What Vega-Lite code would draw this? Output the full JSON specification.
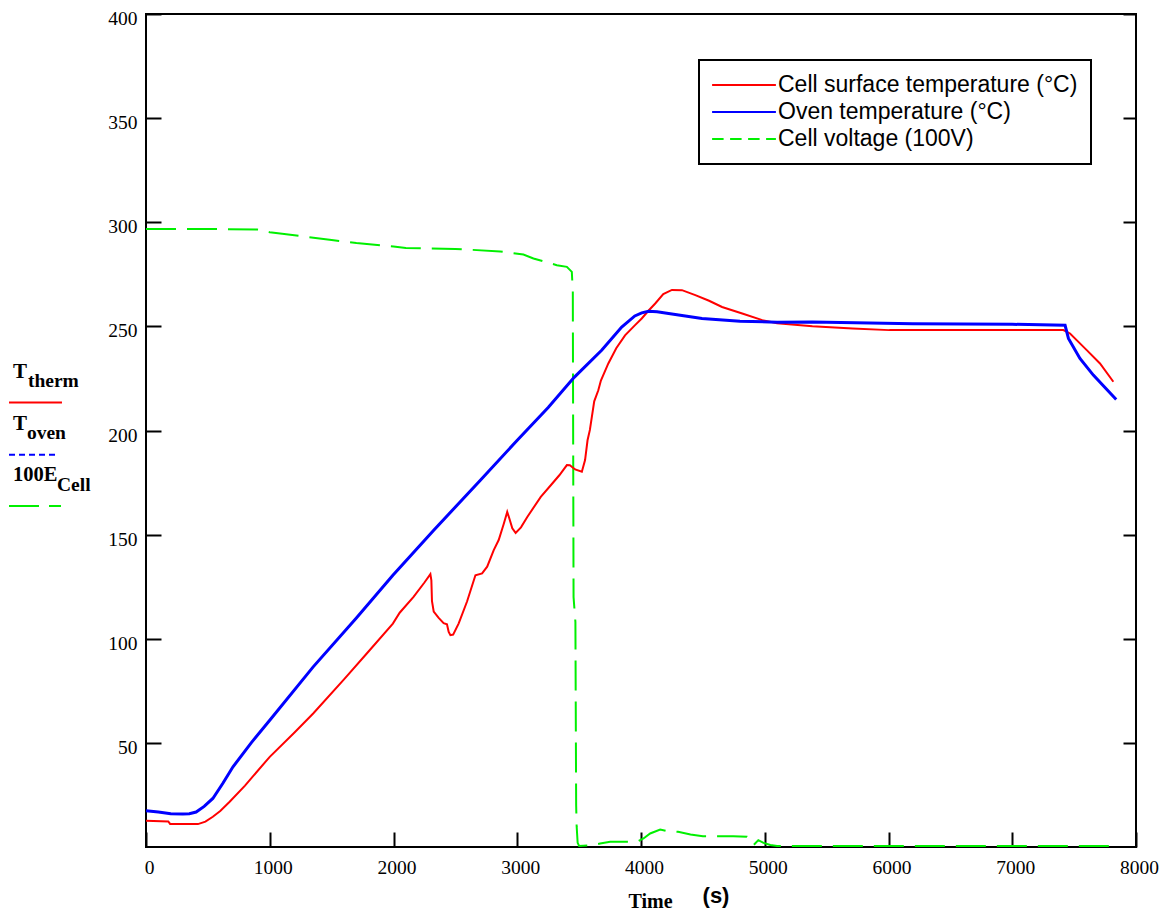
{
  "$schema": "https://vega.github.io/schema/vega-lite/v6.json",
  "width": 990,
  "height": 833,
  "autosize": {"type": "none"},
  "padding": {"left": 146, "top": 14, "right": 34, "bottom": 66},
  "background": "white",
  "datasets": {
    "therm": [
      {"time": 0, "value": 12.6}, {"time": 180, "value": 12.3}, {"time": 195, "value": 11.1}, {"time": 420, "value": 11.0},
      {"time": 480, "value": 12.2}, {"time": 540, "value": 14.5}, {"time": 600, "value": 17.3}, {"time": 676, "value": 21.7},
      {"time": 800, "value": 29.5}, {"time": 1000, "value": 43.3}, {"time": 1200, "value": 55}, {"time": 1351, "value": 64.1},
      {"time": 1600, "value": 80.5}, {"time": 1800, "value": 94}, {"time": 1995, "value": 107.3}, {"time": 2050, "value": 112.5},
      {"time": 2162, "value": 120.1}, {"time": 2250, "value": 127}, {"time": 2298, "value": 131}, {"time": 2306, "value": 128},
      {"time": 2311, "value": 118}, {"time": 2325, "value": 113}, {"time": 2365, "value": 110}, {"time": 2405, "value": 107.5},
      {"time": 2432, "value": 107}, {"time": 2446, "value": 103.3}, {"time": 2460, "value": 101.7}, {"time": 2482, "value": 102},
      {"time": 2527, "value": 107.4}, {"time": 2595, "value": 118}, {"time": 2662, "value": 130.5}, {"time": 2716, "value": 131.4},
      {"time": 2757, "value": 134.6}, {"time": 2810, "value": 142.6}, {"time": 2850, "value": 147.4}, {"time": 2890, "value": 155},
      {"time": 2919, "value": 160.9}, {"time": 2935, "value": 158}, {"time": 2960, "value": 153}, {"time": 2987, "value": 150.8},
      {"time": 3030, "value": 153.5}, {"time": 3081, "value": 158.5}, {"time": 3190, "value": 168.1}, {"time": 3271, "value": 173.7},
      {"time": 3340, "value": 178.5}, {"time": 3401, "value": 183.4}, {"time": 3425, "value": 183.3}, {"time": 3468, "value": 181.3},
      {"time": 3522, "value": 180.2}, {"time": 3548, "value": 185.8}, {"time": 3568, "value": 195.3}, {"time": 3587, "value": 200.3},
      {"time": 3622, "value": 214}, {"time": 3655, "value": 219.3}, {"time": 3676, "value": 224}, {"time": 3736, "value": 232.2},
      {"time": 3800, "value": 239.5}, {"time": 3871, "value": 245.7}, {"time": 3950, "value": 250.5}, {"time": 4006, "value": 253.8},
      {"time": 4060, "value": 257.5}, {"time": 4115, "value": 261}, {"time": 4180, "value": 265.5}, {"time": 4250, "value": 267.5},
      {"time": 4331, "value": 267.4}, {"time": 4439, "value": 265}, {"time": 4550, "value": 262.3}, {"time": 4655, "value": 259.3},
      {"time": 4818, "value": 256.2}, {"time": 4980, "value": 253}, {"time": 5100, "value": 251.5}, {"time": 5385, "value": 250.1},
      {"time": 5710, "value": 249}, {"time": 6007, "value": 248.2}, {"time": 6500, "value": 248.2}, {"time": 7000, "value": 248.3},
      {"time": 7413, "value": 248.2}, {"time": 7467, "value": 246.6}, {"time": 7602, "value": 238.6}, {"time": 7709, "value": 232.2},
      {"time": 7817, "value": 223.4}
    ],
    "oven": [
      {"time": 0, "value": 17.4}, {"time": 100, "value": 16.8}, {"time": 200, "value": 16}, {"time": 297, "value": 15.8},
      {"time": 350, "value": 16}, {"time": 405, "value": 16.8}, {"time": 470, "value": 19.5}, {"time": 540, "value": 23.3},
      {"time": 620, "value": 30.5}, {"time": 703, "value": 38.5}, {"time": 850, "value": 50}, {"time": 1000, "value": 60.9},
      {"time": 1351, "value": 86.5}, {"time": 1700, "value": 110}, {"time": 1995, "value": 130.5}, {"time": 2325, "value": 152.1},
      {"time": 2700, "value": 176}, {"time": 3000, "value": 195.3}, {"time": 3250, "value": 211}, {"time": 3460, "value": 225.5},
      {"time": 3682, "value": 238.5}, {"time": 3844, "value": 249.7}, {"time": 3950, "value": 255}, {"time": 4006, "value": 256.5},
      {"time": 4061, "value": 257.3}, {"time": 4130, "value": 257}, {"time": 4223, "value": 256.2}, {"time": 4493, "value": 253.8},
      {"time": 4800, "value": 252.5}, {"time": 5100, "value": 252}, {"time": 5385, "value": 252.1}, {"time": 6196, "value": 251.3},
      {"time": 7000, "value": 251}, {"time": 7427, "value": 250.5}, {"time": 7454, "value": 244.2}, {"time": 7547, "value": 234.6},
      {"time": 7655, "value": 226.6}, {"time": 7840, "value": 214.9}
    ],
    "cell": [
      {"time": 0, "value": 296.8}, {"time": 500, "value": 296.8}, {"time": 900, "value": 296.5}, {"time": 1000, "value": 295.2},
      {"time": 1100, "value": 294.5}, {"time": 1300, "value": 293}, {"time": 1500, "value": 291.5}, {"time": 1700, "value": 290},
      {"time": 2000, "value": 288.3}, {"time": 2100, "value": 287.6}, {"time": 2500, "value": 287.2}, {"time": 2862, "value": 286},
      {"time": 3050, "value": 284.5}, {"time": 3131, "value": 282.6}, {"time": 3320, "value": 279.4}, {"time": 3401, "value": 278.6},
      {"time": 3441, "value": 276.2}, {"time": 3449, "value": 266.5}, {"time": 3455, "value": 120}, {"time": 3470, "value": 108},
      {"time": 3476, "value": 20}, {"time": 3480, "value": 10}, {"time": 3488, "value": 2}, {"time": 3500, "value": 0.5},
      {"time": 3600, "value": 0.8}, {"time": 3670, "value": 1.7}, {"time": 3751, "value": 2.5}, {"time": 3967, "value": 2.5},
      {"time": 4020, "value": 4.1}, {"time": 4074, "value": 6.5}, {"time": 4155, "value": 8.4}, {"time": 4220, "value": 7.5},
      {"time": 4300, "value": 7.3}, {"time": 4400, "value": 6}, {"time": 4500, "value": 5.2}, {"time": 4745, "value": 5.2},
      {"time": 4856, "value": 4.9}, {"time": 4880, "value": 3}, {"time": 4910, "value": 0.9}, {"time": 4948, "value": 3.3},
      {"time": 4990, "value": 2}, {"time": 5045, "value": 1}, {"time": 5100, "value": 0.5}, {"time": 5500, "value": 0.5},
      {"time": 7800, "value": 0.5}
    ]
  },
  "data": {"values": [{}]},
  "resolve": {"axis": {"x": "independent", "y": "independent"}},
  "layer": [
    {
      "data": {"name": "cell"},
      "mark": {"type": "line", "strokeWidth": 2, "strokeDash": [30, 11], "strokeCap": "butt"},
      "encoding": {
        "x": {"field": "time", "type": "quantitative", "scale": {"domain": [0, 8000], "nice": false, "zero": false}, "axis": null},
        "y": {"field": "value", "type": "quantitative", "scale": {"domain": [0, 400], "nice": false},
          "axis": {"orient": "right", "values": [50, 100, 150, 200, 250, 300, 350, 400], "labels": false, "tickSize": -13, "title": null}},
        "color": {
          "datum": "Cell voltage (100V)", "type": "nominal",
          "scale": {
            "domain": ["Cell surface temperature (°C)", "Oven temperature (°C)", "Cell voltage (100V)"],
            "range": ["#ff0000", "#0000ff", "#00f000"]
          },
          "legend": {
            "title": null,
            "orient": "none",
            "legendX": 553,
            "legendY": 46,
            "direction": "vertical",
            "symbolType": "M-2.9,0H2.9",
            "symbolSize": 484,
            "symbolStrokeWidth": 2,
            "symbolOffset": 20,
            "labelOffset": 22,
            "labelFont": "Liberation Sans",
            "labelFontSize": 23,
            "labelColor": "black",
            "labelLimit": 1000,
            "labelBaseline": "middle",
            "rowPadding": 3,
            "padding": 13,
            "strokeColor": "black",
            "fillColor": "white",
            "encode": {
              "legend": {"update": {"strokeWidth": {"value": 2}}},
              "symbols": {
                "update": {
                  "strokeDash": {"signal": "datum.value === 'Cell voltage (100V)' ? [11.5, 6.5] : [1, 0]"},
                  "fill": {"value": "transparent"}
                }
              }
            }
          }
        }
      }
    },
    {
      "data": {"name": "therm"},
      "mark": {"type": "line", "strokeWidth": 2},
      "encoding": {
        "x": {"field": "time", "type": "quantitative", "scale": {"domain": [0, 8000], "nice": false, "zero": false},
          "axis": {
            "orient": "bottom",
            "values": [0, 1000, 2000, 3000, 4000, 5000, 6000, 7000, 8000],
            "format": "d",
            "tickSize": -15,
            "labelPadding": 26,
            "labelOffset": 3,
            "labelFlush": false,
            "labelOverlap": false,
            "title": "Time",
            "titleFont": "Liberation Serif",
            "titleFontWeight": "bold",
            "titleFontSize": 20,
            "titleX": 504,
            "titleY": 60,
            "titleBaseline": "alphabetic",
            "titleAlign": "center"
          }},
        "y": {"field": "value", "type": "quantitative", "scale": {"domain": [0, 400], "nice": false},
          "axis": {
            "orient": "left",
            "values": [50, 100, 150, 200, 250, 300, 350, 400],
            "tickSize": -15,
            "labelPadding": 24,
            "labelOffset": 4.5,
            "labelFlush": false,
            "labelOverlap": false,
            "title": null
          }},
        "color": {"datum": "Cell surface temperature (°C)", "type": "nominal"}
      }
    },
    {
      "data": {"name": "oven"},
      "mark": {"type": "line", "strokeWidth": 3},
      "encoding": {
        "x": {"field": "time", "type": "quantitative", "scale": {"domain": [0, 8000], "nice": false, "zero": false}, "axis": null},
        "y": {"field": "value", "type": "quantitative", "scale": {"domain": [0, 400], "nice": false}, "axis": null},
        "color": {"datum": "Oven temperature (°C)", "type": "nominal"}
      }
    },
    {
      "mark": {"type": "text", "text": "(s)", "font": "Liberation Sans", "fontWeight": "bold", "fontSize": 22, "align": "center", "baseline": "alphabetic", "color": "black"},
      "encoding": {
        "x": {"datum": 4606, "type": "quantitative", "scale": {"domain": [0, 8000], "nice": false, "zero": false}, "axis": null},
        "y": {"datum": -27, "type": "quantitative", "scale": {"domain": [0, 400], "nice": false}, "axis": null}
      }
    },
    {
      "mark": {"type": "text", "text": "T", "font": "Liberation Serif", "fontWeight": "bold", "fontSize": 21, "align": "left", "baseline": "alphabetic", "color": "black"},
      "encoding": {
        "x": {"datum": -1075, "type": "quantitative", "scale": {"domain": [0, 8000], "nice": false, "zero": false}, "axis": null},
        "y": {"datum": 225.2, "type": "quantitative", "scale": {"domain": [0, 400], "nice": false}, "axis": null}
      }
    },
    {
      "mark": {"type": "text", "text": "therm", "font": "Liberation Serif", "fontWeight": "bold", "fontSize": 19.5, "align": "left", "baseline": "alphabetic", "color": "black"},
      "encoding": {
        "x": {"datum": -954, "type": "quantitative", "scale": {"domain": [0, 8000], "nice": false, "zero": false}, "axis": null},
        "y": {"datum": 221.0, "type": "quantitative", "scale": {"domain": [0, 400], "nice": false}, "axis": null}
      }
    },
    {
      "mark": {"type": "text", "text": "T", "font": "Liberation Serif", "fontWeight": "bold", "fontSize": 21, "align": "left", "baseline": "alphabetic", "color": "black"},
      "encoding": {
        "x": {"datum": -1075, "type": "quantitative", "scale": {"domain": [0, 8000], "nice": false, "zero": false}, "axis": null},
        "y": {"datum": 200.2, "type": "quantitative", "scale": {"domain": [0, 400], "nice": false}, "axis": null}
      }
    },
    {
      "mark": {"type": "text", "text": "oven", "font": "Liberation Serif", "fontWeight": "bold", "fontSize": 19.5, "align": "left", "baseline": "alphabetic", "color": "black"},
      "encoding": {
        "x": {"datum": -962, "type": "quantitative", "scale": {"domain": [0, 8000], "nice": false, "zero": false}, "axis": null},
        "y": {"datum": 195.9, "type": "quantitative", "scale": {"domain": [0, 400], "nice": false}, "axis": null}
      }
    },
    {
      "mark": {"type": "text", "text": "100E", "font": "Liberation Serif", "fontWeight": "bold", "fontSize": 20.5, "align": "left", "baseline": "alphabetic", "color": "black"},
      "encoding": {
        "x": {"datum": -1075, "type": "quantitative", "scale": {"domain": [0, 8000], "nice": false, "zero": false}, "axis": null},
        "y": {"datum": 175.7, "type": "quantitative", "scale": {"domain": [0, 400], "nice": false}, "axis": null}
      }
    },
    {
      "mark": {"type": "text", "text": "Cell", "font": "Liberation Serif", "fontWeight": "bold", "fontSize": 19.5, "align": "left", "baseline": "alphabetic", "color": "black"},
      "encoding": {
        "x": {"datum": -719, "type": "quantitative", "scale": {"domain": [0, 8000], "nice": false, "zero": false}, "axis": null},
        "y": {"datum": 171.0, "type": "quantitative", "scale": {"domain": [0, 400], "nice": false}, "axis": null}
      }
    },
    {
      "mark": {"type": "rule", "strokeWidth": 2},
      "encoding": {
        "x": {"datum": -1107, "type": "quantitative", "scale": {"domain": [0, 8000], "nice": false, "zero": false}, "axis": null},
        "x2": {"datum": -679},
        "y": {"datum": 213.5, "type": "quantitative", "scale": {"domain": [0, 400], "nice": false}, "axis": null},
        "color": {"datum": "Cell surface temperature (°C)", "type": "nominal"}
      }
    },
    {
      "mark": {"type": "rule", "strokeWidth": 2, "strokeDash": [6, 4]},
      "encoding": {
        "x": {"datum": -1107, "type": "quantitative", "scale": {"domain": [0, 8000], "nice": false, "zero": false}, "axis": null},
        "x2": {"datum": -727},
        "y": {"datum": 188.3, "type": "quantitative", "scale": {"domain": [0, 400], "nice": false}, "axis": null},
        "color": {"datum": "Oven temperature (°C)", "type": "nominal"}
      }
    },
    {
      "mark": {"type": "rule", "strokeWidth": 2, "strokeDash": [30, 10]},
      "encoding": {
        "x": {"datum": -1107, "type": "quantitative", "scale": {"domain": [0, 8000], "nice": false, "zero": false}, "axis": null},
        "x2": {"datum": -687},
        "y": {"datum": 163.8, "type": "quantitative", "scale": {"domain": [0, 400], "nice": false}, "axis": null},
        "color": {"datum": "Cell voltage (100V)", "type": "nominal"}
      }
    }
  ],
  "config": {
    "view": {"stroke": "black", "strokeWidth": 2},
    "axis": {
      "grid": false,
      "domain": false,
      "tickColor": "black",
      "tickWidth": 2,
      "labelColor": "black",
      "labelFont": "Liberation Serif",
      "labelFontSize": 19.5,
      "titleColor": "black"
    }
  }
}
